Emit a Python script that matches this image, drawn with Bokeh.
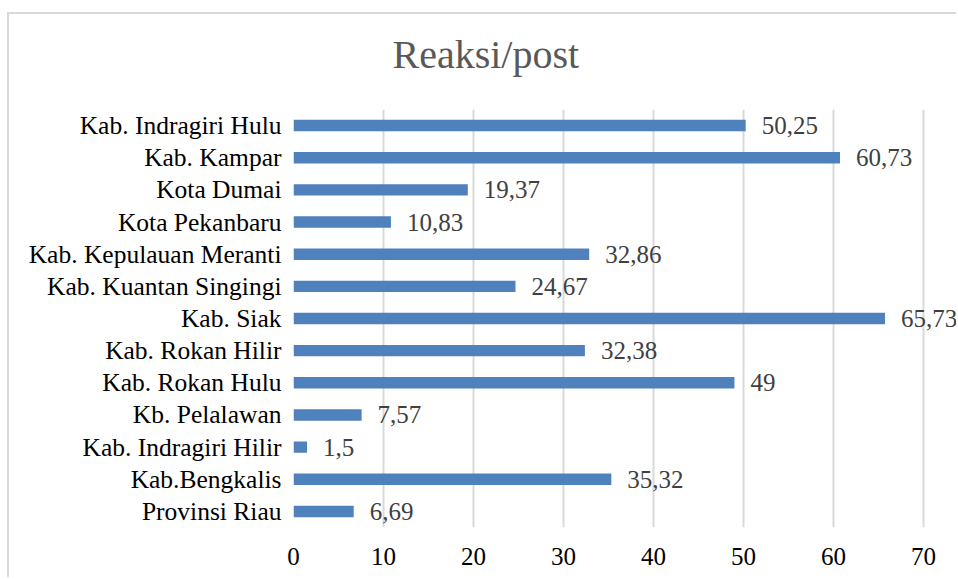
from bokeh.plotting import figure
from bokeh.models import FactorRange, Range1d, ColumnDataSource, FixedTicker, Title
from bokeh.embed import file_html
from bokeh.resources import INLINE
from bokeh.core.properties import value

categories = ["Kab. Indragiri Hulu", "Kab. Kampar", "Kota Dumai", "Kota Pekanbaru",
              "Kab. Kepulauan Meranti", "Kab. Kuantan Singingi", "Kab. Siak",
              "Kab. Rokan Hilir", "Kab. Rokan Hulu", "Kb. Pelalawan",
              "Kab. Indragiri Hilir", "Kab.Bengkalis", "Provinsi Riau"]
values = [50.25, 60.73, 19.37, 10.83, 32.86, 24.67, 65.73, 32.38, 49, 7.57, 1.5, 35.32, 6.69]
labels = ["50,25", "60,73", "19,37", "10,83", "32,86", "24,67", "65,73", "32,38",
          "49", "7,57", "1,5", "35,32", "6,69"]
x_ticks = [0, 10, 20, 30, 40, 50, 60, 70]
title_text = "Reaksi/post"

FONT = "Liberation Serif"

src = ColumnDataSource(dict(cat=categories, val=values, lab=labels))

p = figure(width=949, height=565, output_backend="svg", toolbar_location=None,
           y_range=FactorRange(factors=list(reversed(categories))),
           x_range=Range1d(0, 73.9),
           min_border_left=284, min_border_right=0, min_border_top=95, min_border_bottom=52,
           title=None,
           styles={"margin-left": "7px", "margin-top": "12px",
                   "border-left": "2px solid #D9D9D9", "border-top": "2px solid #D9D9D9"})

p.hbar(y="cat", right="val", height=0.355, source=src,
       fill_color="#4F81BD", line_color=None)
p.text(x="val", y="cat", text="lab", source=src, x_offset=16,
       text_font=value(FONT), text_font_size="25px", text_color="#404040",
       text_baseline="middle", text_align="left")

# spacer between the frame and the title
spacer = Title(text=" ", text_font_size="1px", standoff=30)
p.add_layout(spacer, "above")
main_title = Title(text=title_text, text_font=FONT, text_font_size="40px",
                   text_font_style="normal", text_color="#595959",
                   align="left", offset=99, standoff=0)
p.add_layout(main_title, "above")

p.outline_line_color = None
p.background_fill_color = "white"
p.border_fill_color = "white"

p.xaxis.ticker = FixedTicker(ticks=x_ticks)
p.xaxis.axis_line_color = None
p.xaxis.major_tick_line_color = None
p.xaxis.minor_tick_line_color = None
p.xaxis.major_label_text_font = FONT
p.xaxis.major_label_text_font_size = "25px"
p.xaxis.major_label_text_color = "#000000"
p.xaxis.major_label_standoff = 14

p.yaxis.axis_line_color = None
p.yaxis.major_tick_line_color = None
p.yaxis.minor_tick_line_color = None
p.yaxis.major_label_text_font = FONT
p.yaxis.major_label_text_font_size = "25.5px"
p.yaxis.major_label_text_color = "#000000"
p.yaxis.major_label_standoff = 6

p.ygrid.grid_line_color = None
p.xgrid.ticker = FixedTicker(ticks=x_ticks)
p.xgrid.grid_line_color = "#D9D9D9"
p.xgrid.grid_line_width = 2

open("out.html", "w").write(file_html(p, INLINE))
